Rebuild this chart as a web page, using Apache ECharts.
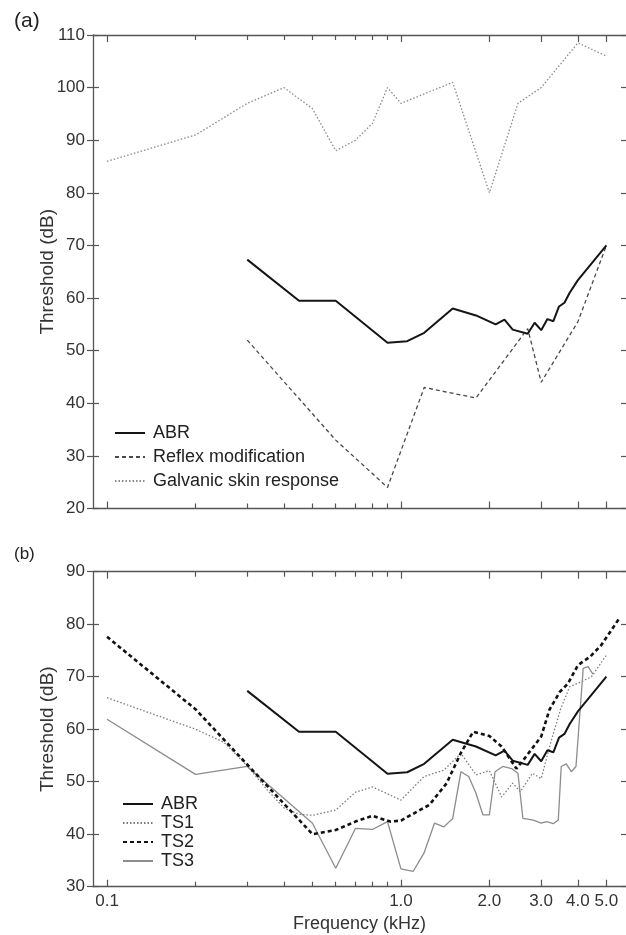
<!DOCTYPE html>
<html>
<head>
<meta charset="utf-8">
<script src="https://cdn.jsdelivr.net/npm/echarts@6/dist/echarts.min.js"></script>
<style>
html,body{margin:0;padding:0;background:#fff;}
#chart{width:626px;height:935px;}
</style>
</head>
<body>
<div id="chart"></div>
<script>
// ---------- data (frequency in kHz, threshold in dB) ----------
const abrFreq = [0.3, 0.45, 0.6, 0.9, 1.05, 1.2, 1.5, 1.8, 2.1, 2.25, 2.4, 2.7, 2.85, 3.0, 3.15, 3.3, 3.45, 3.6, 3.75, 4.0, 5.0];
const abrDb   = [67.3, 59.5, 59.5, 51.5, 51.8, 53.4, 58, 56.7, 55, 55.9, 54, 53.2, 55.3, 53.9, 56, 55.6, 58.4, 59.1, 61, 63.4, 70];

const reflexFreq = [0.3, 0.6, 0.9, 1.2, 1.8, 2.7, 3.0, 4.0, 5.0];
const reflexDb   = [52, 33, 24, 43, 41, 54.2, 44, 55.5, 70];

const gsrFreq = [0.1, 0.2, 0.3, 0.4, 0.5, 0.6, 0.7, 0.8, 0.9, 1.0, 1.5, 2.0, 2.5, 3.0, 4.0, 5.0];
const gsrDb   = [86, 91, 97, 100, 96, 88, 90, 93.2, 100, 97, 101, 80, 97, 100, 108.5, 106];

const ts1Freq = [0.1, 0.2, 0.25, 0.3, 0.35, 0.4, 0.45, 0.5, 0.6, 0.7, 0.8, 1.0, 1.2, 1.4, 1.6, 1.8, 2.0, 2.2, 2.4, 2.55, 2.8, 3.0, 3.25, 3.5, 3.75, 4.1, 4.45, 5.0];
const ts1Db   = [66, 60, 57.5, 53, 48.5, 45, 43.8, 43.6, 44.6, 48, 49, 46.5, 51, 52.2, 55.4, 51.3, 52.1, 47.1, 49.7, 48.1, 51.6, 50.6, 57.9, 64, 68.1, 69, 70, 74.1];

const ts2Freq = [0.1, 0.2, 0.5, 0.6, 0.7, 0.8, 0.92, 1.0, 1.25, 1.43, 1.6, 1.76, 2.0, 2.2, 2.47, 2.64, 3.0, 3.2, 3.47, 3.7, 4.0, 4.4, 4.8, 5.5];
const ts2Db   = [77.6, 63.8, 40, 40.8, 42.4, 43.5, 42.4, 42.6, 45.6, 49.7, 55.5, 59.5, 58.7, 56.7, 52.5, 54.5, 58.6, 63.7, 67.1, 68.7, 72.2, 73.8, 76, 80.9];

const ts3Freq = [0.1, 0.2, 0.3, 0.5, 0.6, 0.7, 0.8, 0.9, 1.0, 1.1, 1.2, 1.3, 1.4, 1.5, 1.6, 1.7, 1.8, 1.9, 2.0, 2.09, 2.22, 2.38, 2.5, 2.6, 2.82, 3.0, 3.13, 3.3, 3.43, 3.51, 3.65, 3.8, 3.94, 4.17, 4.33, 4.5];
const ts3Db   = [61.9, 51.4, 52.9, 42.1, 33.5, 41.1, 40.9, 42.4, 33.4, 32.9, 36.5, 42.1, 41.4, 43, 51.9, 51, 47.8, 43.7, 43.7, 51.9, 52.9, 52.5, 51.6, 43, 42.7, 42.1, 42.4, 42, 42.7, 52.9, 53.4, 51.9, 52.9, 71.6, 71.9, 70.5];

const xLabelFreqs = [0.1, 1.0, 2.0, 3.0, 4.0, 5.0];
const xMajorTickFreqs = [0.1, 1.0, 2.0, 3.0, 4.0, 5.0];
const xMinorTickFreqs = [0.2, 0.3, 0.4, 0.5, 0.6, 0.7, 0.8, 0.9];
const freqMin = 0.0896, freqMax = 5.83;
const yRangeA = [20, 110];
const yRangeB = [30, 90];

// ---------- helpers ----------
const FONT = 'Liberation Sans, Arial, sans-serif';
const lg = Math.log10;
const pts = (fs, ds) => fs.map((f, i) => [lg(f), ds[i]]);
const AX_COLOR = '#555';
const TXT = '#333';

function xAxesFor(grid, withLabels) {
  const base = {
    type: 'value', gridIndex: grid, min: lg(freqMin), max: lg(freqMax),
    splitLine: { show: false }
  };
  const mk = (pos, ticks, len, line, labels) => Object.assign({}, base, {
    position: pos,
    axisLine: { show: line, onZero: false, lineStyle: { color: AX_COLOR, width: 1.3 } },
    axisTick: { show: true, inside: true, length: len, customValues: ticks.map(lg), lineStyle: { color: AX_COLOR, width: 1.2 } },
    axisLabel: labels ? {
      show: true, customValues: xLabelFreqs.map(lg), margin: 6,
      formatter: v => Math.pow(10, v).toFixed(1),
      fontSize: 17, color: TXT, fontFamily: FONT
    } : { show: false },
    name: labels ? 'Frequency (kHz)' : '',
    nameLocation: 'middle', nameGap: 28, nameMoveOverlap: false,
    nameTextStyle: { fontSize: 18, color: TXT, fontFamily: FONT }
  });
  return [
    mk('bottom', xMajorTickFreqs, 7, true, withLabels),
    mk('bottom', xMinorTickFreqs, 5, false, false),
    mk('top', xMajorTickFreqs, 7, true, false),
    mk('top', xMinorTickFreqs, 5, false, false)
  ];
}

function yAxesFor(grid, range) {
  const base = { type: 'value', gridIndex: grid, min: range[0], max: range[1], interval: 10, splitLine: { show: false } };
  return [
    Object.assign({}, base, {
      position: 'left',
      axisLine: { show: true, onZero: false, lineStyle: { color: AX_COLOR, width: 1.3 } },
      axisTick: { show: true, inside: false, length: 6, lineStyle: { color: AX_COLOR, width: 1.2 } },
      axisLabel: { show: true, margin: 8, fontSize: 17, color: TXT, fontFamily: FONT },
      name: 'Threshold (dB)', nameLocation: 'middle', nameGap: 36, nameMoveOverlap: false,
      nameTextStyle: { fontSize: 19, color: TXT, fontFamily: FONT }
    }),
    Object.assign({}, base, {
      position: 'left',
      axisLine: { show: false, onZero: false },
      axisTick: { show: true, inside: true, length: 6, lineStyle: { color: AX_COLOR, width: 1.2 } },
      axisLabel: { show: false }
    }),
    Object.assign({}, base, {
      position: 'right',
      axisLine: { show: false, onZero: false },
      axisTick: { show: true, inside: true, length: 5, lineStyle: { color: AX_COLOR, width: 1.2 } },
      axisLabel: { show: false }
    })
  ];
}

function lineSeries(name, fs, ds, xi, yi, style) {
  return {
    type: 'line', name: name, xAxisIndex: xi, yAxisIndex: yi,
    data: pts(fs, ds), symbol: 'none', showSymbol: false, smooth: false,
    lineStyle: style, itemStyle: { color: style.color }, emphasis: { disabled: true }, z: style.z || 2
  };
}

const sABR = { color: '#151515', width: 2, type: 'solid', z: 5 };
const sReflex = { color: '#4a4a4a', width: 1.3, type: [4, 3] };
const sGSR = { color: '#8a8a8a', width: 1.3, type: [1.5, 2] };
const sTS1 = { color: '#7a7a7a', width: 1.3, type: [1.5, 2] };
const sTS2 = { color: '#111', width: 2.6, type: [4, 3], z: 4 };
const sTS3 = { color: '#8c8c8c', width: 1.3, type: 'solid' };

const legendCommon = {
  orient: 'vertical', itemWidth: 30, itemHeight: 14, padding: 0,
  selectedMode: false,
  itemStyle: { opacity: 0, borderWidth: 0 },
  textStyle: { fontSize: 18, color: '#222', fontFamily: FONT, padding: [0, 0, 0, 3] }
};

const option = {
  animation: false,
  backgroundColor: '#fff',
  textStyle: { fontFamily: FONT },
  title: [
    { text: '(a)', left: 9, top: 6, textStyle: { fontSize: 21, fontWeight: 'normal', color: '#222', fontFamily: FONT } },
    { text: '(b)', left: 9, top: 541, textStyle: { fontSize: 17, fontWeight: 'normal', color: '#222', fontFamily: FONT } }
  ],
  grid: [
    { left: 93, right: 0, top: 35, height: 473.5 },
    { left: 93, right: 0, top: 571.7, height: 315 }
  ],
  xAxis: [].concat(xAxesFor(0, false), xAxesFor(1, true)),
  yAxis: [].concat(yAxesFor(0, yRangeA), yAxesFor(1, yRangeB)),
  legend: [
    Object.assign({}, legendCommon, {
      data: ['ABR', 'Reflex modification', 'Galvanic skin response'],
      left: 114, top: 424, itemGap: 6
    }),
    Object.assign({}, legendCommon, {
      data: ['ABR', 'TS1', 'TS2', 'TS3'],
      left: 122, top: 795, itemGap: 1
    })
  ],
  series: [
    lineSeries('ABR', abrFreq, abrDb, 0, 0, sABR),
    lineSeries('Reflex modification', reflexFreq, reflexDb, 0, 0, sReflex),
    lineSeries('Galvanic skin response', gsrFreq, gsrDb, 0, 0, sGSR),
    lineSeries('ABR', abrFreq, abrDb, 4, 3, sABR),
    lineSeries('TS1', ts1Freq, ts1Db, 4, 3, sTS1),
    lineSeries('TS2', ts2Freq, ts2Db, 4, 3, sTS2),
    lineSeries('TS3', ts3Freq, ts3Db, 4, 3, sTS3)
  ]
};

const chart = echarts.init(document.getElementById('chart'), null, { renderer: 'canvas' });
chart.setOption(option);
</script>
</body>
</html>
